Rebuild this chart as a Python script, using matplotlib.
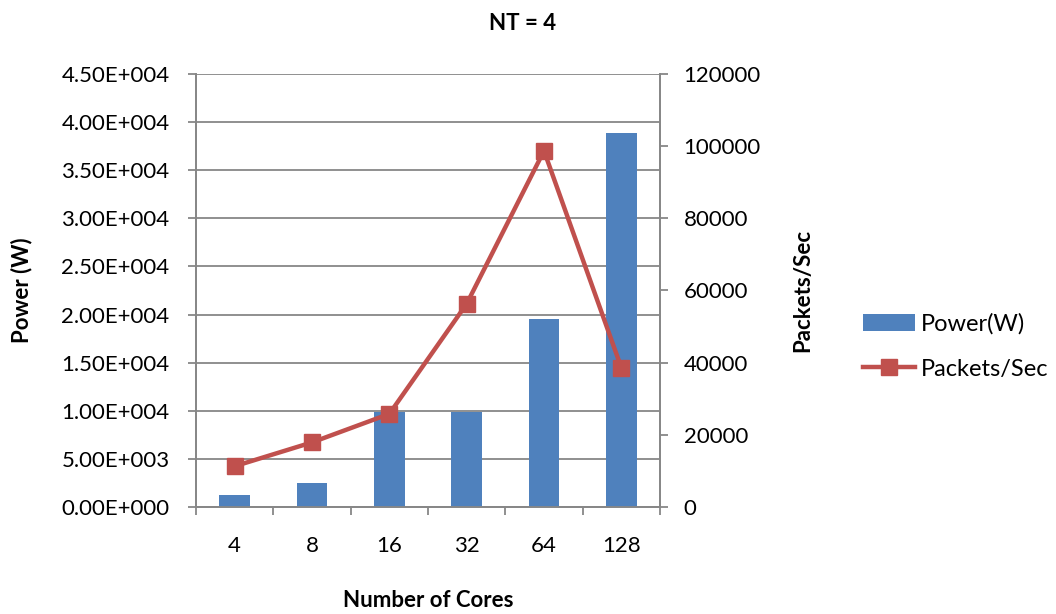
import numpy as np
import matplotlib
matplotlib.use("Agg")
import matplotlib.pyplot as plt
from matplotlib.patches import Patch
from matplotlib.lines import Line2D
from matplotlib.ticker import FuncFormatter

plt.rcParams['font.family'] = ['Lato', 'DejaVu Sans']

# 数据
cores = ['4', '8', '16', '32', '64', '128']
power_w = [1250, 2450, 9900, 9900, 19500, 38900]
packets_sec = [11300, 17900, 25800, 56300, 98700, 38600]

bar_color = '#4F81BD'
line_color = '#C0504D'
grid_color = '#878787'

fig = plt.figure(figsize=(10.56, 6.14), dpi=100)
ax = fig.add_axes([0.1856, 0.1743, 0.4394, 0.7052])
x = np.arange(len(cores))

# 柱状图 (左轴)
ax.bar(x, power_w, width=0.4, color=bar_color, zorder=3)
ax.set_xlim(-0.5, len(cores) - 0.5)
ax.set_ylim(0, 45000)
ax.set_yticks(np.arange(0, 45001, 5000))
ax.yaxis.set_major_formatter(FuncFormatter(lambda v, p: f"{v:.2E}".replace("E+0", "E+00")))
ax.grid(axis='y', color=grid_color, linewidth=1.3, zorder=0)
ax.set_axisbelow(True)

# x轴刻度：标签居中，刻度线在分类边界
ax.set_xticks(x)
ax.set_xticklabels(cores)
ax.set_xticks(np.arange(-0.5, len(cores)), minor=True)
ax.tick_params(axis='x', which='major', length=0, pad=21, labelsize=16)
ax.tick_params(axis='x', which='minor', length=6, color=grid_color, width=1.3)
ax.tick_params(axis='y', length=6, color=grid_color, width=1.3, labelsize=16, pad=13)

for s in ax.spines.values():
    s.set_color(grid_color)
    s.set_linewidth(1.3)
ax.spines['top'].set_visible(False)

# 折线图 (右轴)
ax2 = ax.twinx()
ax2.plot(x, packets_sec, color=line_color, linewidth=3.2, marker='s',
         markersize=11, zorder=4)
ax2.set_ylim(0, 120000)
ax2.set_yticks(np.arange(0, 120001, 20000))
ax2.tick_params(axis='y', length=6, color=grid_color, width=1.3, labelsize=16, pad=11)
for s in ax2.spines.values():
    s.set_color(grid_color)
    s.set_linewidth(1.3)
ax2.spines['top'].set_visible(False)

fig.text(523 / 1056, 1 - 23 / 614, 'NT = 4', fontsize=16, fontweight='bold',
         ha='center', va='center')
ax.set_xlabel('Number of Cores', fontsize=16, fontweight='bold')
ax.xaxis.set_label_coords(0.5, -0.215)
ax.set_ylabel('Power (W)', fontsize=16, fontweight='bold', va='center')
ax.yaxis.set_label_coords(-0.375, 0.5)
ax2.set_ylabel('Packets/Sec', fontsize=16, fontweight='bold', va='center')
ax2.yaxis.set_label_coords(1.308, 0.5)
ax.xaxis.label.set_va('center')

handles = [
    Patch(facecolor=bar_color, label='Power(W)'),
    Line2D([0], [0], color=line_color, linewidth=3.2, marker='s', markersize=11,
           label='Packets/Sec'),
]
fig.legend(handles=handles, loc='center left', bbox_to_anchor=(0.817, 0.4357),
           frameon=False, fontsize=17, handlelength=2.2, labelspacing=1.0,
           handletextpad=0.25, borderpad=0, borderaxespad=0)

plt.savefig('out.png', dpi=100)
